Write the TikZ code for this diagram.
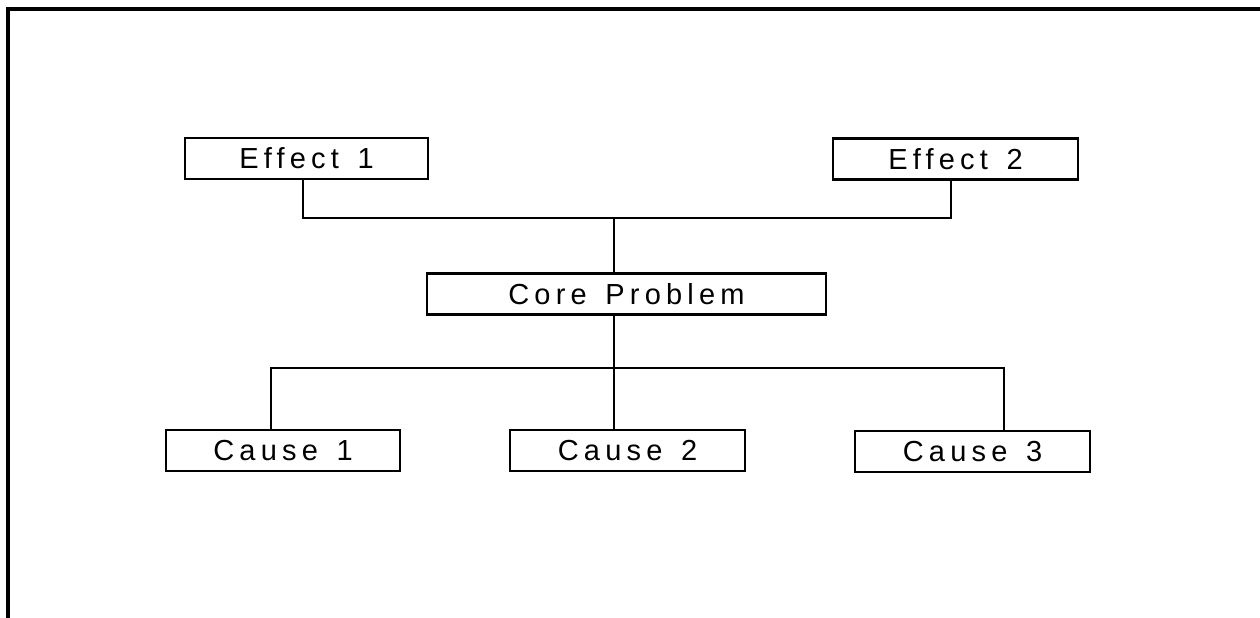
\documentclass[tikz,border=0pt]{standalone}
\usepackage{fontspec}
\setmainfont[LetterSpace=18,WordSpace=1.4]{Liberation Sans}
\usepackage{tikz}
\usetikzlibrary{positioning}

\begin{document}
\begin{tikzpicture}[x=0.02cm,y=-0.02cm,
    tree/.style = {draw, line width=1.4pt, inner sep=0pt, minimum height=0.82cm, font=\fontsize{16.5}{19}\selectfont},
    link/.style = {line width=1.4pt}]
        \useasboundingbox (0,0) rectangle (1260,618);
        % frame
        \draw[line width=2pt] (8,618) -- (8,9) -- (1260,9);
        % boxes
        \node[tree, minimum width=4.86cm] (e1) at (306.5,158.5) {Effect 1};
        \node[tree, minimum width=4.9cm] (e2) at (955.5,159) {Effect 2};
        \node[tree, minimum width=7.98cm] (core) at (626.5,294) {Core Problem};
        \node[tree, minimum width=4.68cm] (c1) at (283,450.5) {Cause 1};
        \node[tree, minimum width=4.7cm] (c2) at (627.5,450.5) {Cause 2};
        \node[tree, minimum width=4.7cm] (c3) at (972.5,451.5) {Cause 3};
        % junctions
        \coordinate (up) at (614,218);
        \coordinate (down) at (614,368);
        \coordinate (j1) at (303,218);
        \coordinate (j2) at (951,218);
        \coordinate (k1) at (271,368);
        \coordinate (k3) at (1004,368);
        \draw[link] (e1.south -| j1) -- (j1) -- (j2) -- (e2.south -| j2);
        \draw[link] (up) -- (core.north -| up);
        \draw[link] (core.south -| down) -- (down);
        \draw[link] (c1.north -| k1) -- (k1) -- (k3) -- (c3.north -| k3);
        \draw[link] (down) -- (c2.north -| down);
      \end{tikzpicture}
\end{document}
